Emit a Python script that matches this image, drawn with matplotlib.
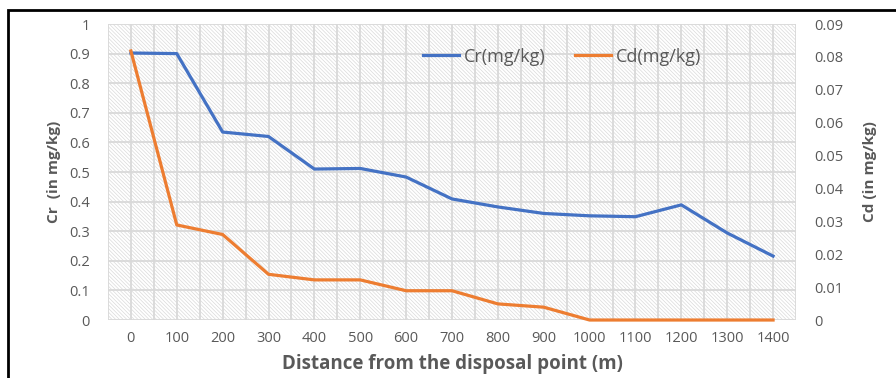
import matplotlib.pyplot as plt
from matplotlib.patches import Rectangle
import numpy as np

# Data
distance = ['0', '100', '200', '300', '400', '500', '600', '700',
            '800', '900', '1000', '1100', '1200', '1300', '1400']
cr = [0.902, 0.900, 0.635, 0.620, 0.510, 0.512, 0.483, 0.409,
      0.382, 0.360, 0.352, 0.349, 0.389, 0.294, 0.216]
cd = [0.0818, 0.0289, 0.0260, 0.0139, 0.0122, 0.0122, 0.0089, 0.0089,
      0.0049, 0.0039, 0.0, 0.0, 0.0, 0.0, 0.0]

plt.rcParams['font.family'] = ['Open Sans', 'DejaVu Sans']
plt.rcParams['hatch.linewidth'] = 0.5
text_col = '#595959'
grid_col = '#d9d9d9'

fig = plt.figure(figsize=(8.96, 3.78), dpi=100)
ax = fig.add_axes([0.1205, 0.1534, 0.7679, 0.7831])
ax2 = ax.twinx()

x = np.arange(len(distance))

# hatched plot area background
ax.patch.set_visible(False)
bg = Rectangle((0, 0), 1, 1, transform=ax.transAxes, facecolor='white',
               edgecolor='#dadada', hatch='\\' * 9, linewidth=0, zorder=0)
ax.add_patch(bg)

ax.set_xlim(-0.5, len(distance) - 0.5)
ax.set_ylim(0, 1)
ax2.set_ylim(0, 0.09)

# gridlines (major + half-category verticals)
for gx in np.arange(-0.5, len(distance), 0.5):
    ax.axvline(gx, color=grid_col, lw=1.3, zorder=1)
for gy in np.arange(0, 1.01, 0.1):
    ax.axhline(gy, color=grid_col, lw=1.3, zorder=1)

l1, = ax.plot(x, cr, color='#4472C4', lw=2.3, label='Cr(mg/kg)', zorder=3)
l2, = ax2.plot(x, cd, color='#ED7D31', lw=2.3, label='Cd(mg/kg)', zorder=3,
               clip_on=False)

ax.set_xticks(x)
ax.set_xticklabels(distance)
ax.set_yticks(np.arange(0, 1.01, 0.1))
ax.set_yticklabels(['0', '0.1', '0.2', '0.3', '0.4', '0.5', '0.6', '0.7', '0.8', '0.9', '1'])
ax2.set_yticks(np.arange(0, 0.0901, 0.01))
ax2.set_yticklabels(['0', '0.01', '0.02', '0.03', '0.04', '0.05', '0.06', '0.07', '0.08', '0.09'])

for a in (ax, ax2):
    for s in a.spines.values():
        s.set_visible(False)
    a.tick_params(length=0, labelsize=10.5, colors=text_col)
ax.tick_params(axis='y', pad=13)
ax.tick_params(axis='x', pad=8)
ax2.tick_params(axis='y', pad=13)

ax.set_ylabel('Cr  (in mg/kg)', fontsize=11, fontweight='bold', color=text_col, labelpad=6)
ax2.set_ylabel('Cd (in mg/kg)', fontsize=11, fontweight='bold', color=text_col, labelpad=14)
ax.set_xlabel('Distance from the disposal point (m)', fontsize=13.5, fontweight='bold',
              color=text_col, labelpad=6)

leg = ax2.legend(handles=[l1, l2], loc='center', bbox_to_anchor=(0.66, 0.89),
                 ncol=2, frameon=False, fontsize=13, handlelength=2.0,
                 handletextpad=0.3, columnspacing=1.6)
for t in leg.get_texts():
    t.set_color(text_col)

# outer chart border
fig.patches.append(Rectangle((8 / 896, -0.1), 1.2, 1.1 - 10 / 378,
                             transform=fig.transFigure, fill=False,
                             edgecolor='black', linewidth=2))

fig.savefig('out.png', dpi=100)
